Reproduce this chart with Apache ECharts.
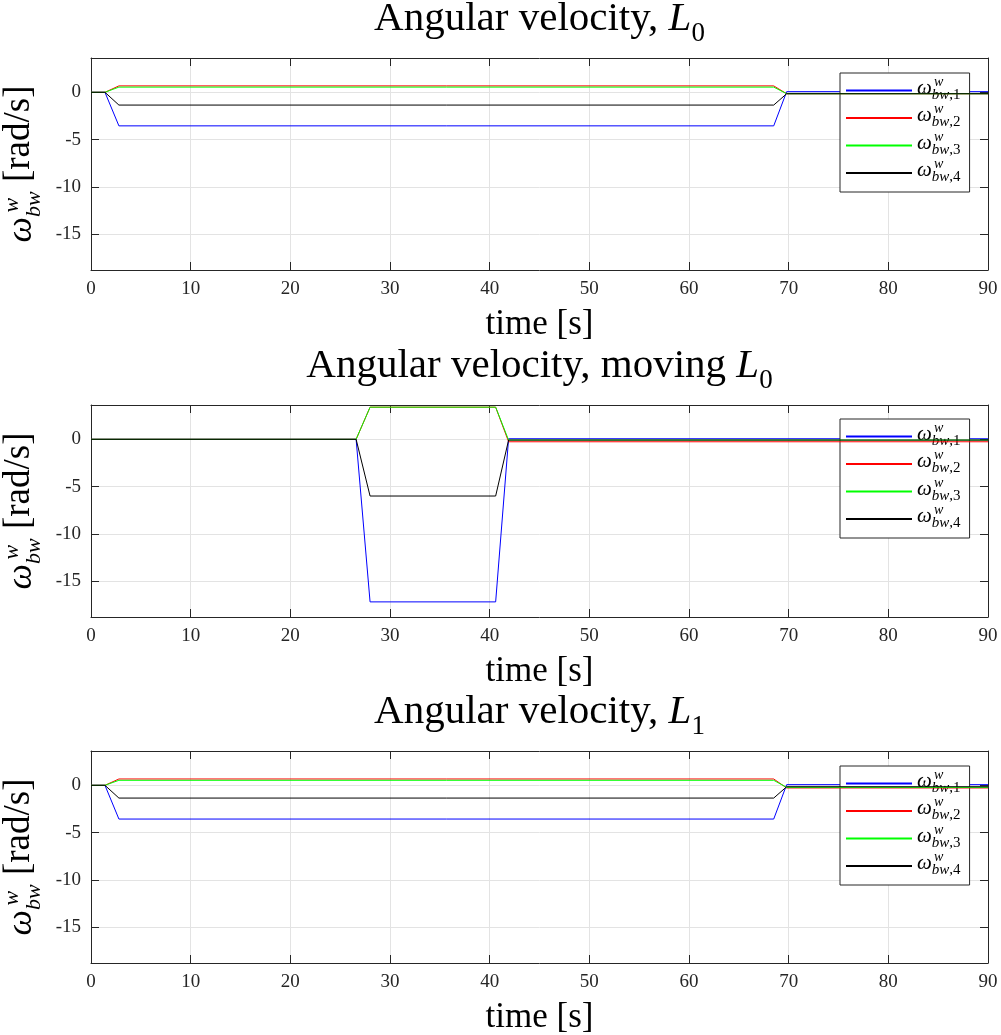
<!DOCTYPE html>
<html>
<head>
<meta charset="utf-8">
<script src="https://cdn.jsdelivr.net/npm/echarts@6/dist/echarts.min.js"></script>
<style>
html,body{margin:0;padding:0;background:#fff;}
#chart{width:1001px;height:1035px;}
</style>
</head>
<body>
<div id="chart"></div>
<script>
// ---------- data ----------
const TITLES = ['Angular velocity, ', 'Angular velocity, moving ', 'Angular velocity, '];
const TITLE_SUBS = ['0', '0', '1'];
const SERIES_KEYS = ['1', '2', '3', '4'];
const X_TICKS = [0, 10, 20, 30, 40, 50, 60, 70, 80, 90];
const Y_TICKS = [-15, -10, -5, 0];

// Panel 1: L0
const TIME_L0 = [0, 1.4, 2.8, 68.5, 69.8, 90];
const L0_W1 = [0, 0, -3.55, -3.55, 0.07, 0.07];
const L0_W2 = [0, 0, 0.68, 0.68, -0.15, -0.15];
const L0_W3 = [0, 0, 0.55, 0.55, -0.15, -0.15];
const L0_W4 = [0, 0, -1.35, -1.35, -0.15, -0.15];

// Panel 2: moving L0
const TIME_ML0 = [0, 26.6, 28.0, 40.6, 41.9, 90];
const ML0_W1 = [0, 0, -17.2, -17.2, 0.06, 0.06];
const ML0_W2 = [0, 0, 3.4, 3.4, -0.26, -0.26];
const ML0_W3 = [0, 0, 3.4, 3.4, -0.08, -0.08];
const ML0_W4 = [0, 0, -6.0, -6.0, -0.08, -0.08];

// Panel 3: L1
const TIME_L1 = [0, 1.4, 2.8, 68.5, 69.8, 90];
const L1_W1 = [0, 0, -3.57, -3.57, 0.07, 0.07];
const L1_W2 = [0, 0, 0.67, 0.67, -0.28, -0.28];
const L1_W3 = [0, 0, 0.53, 0.53, -0.22, -0.22];
const L1_W4 = [0, 0, -1.35, -1.35, -0.15, -0.15];

const PANELS = [
  { time: TIME_L0, values: [L0_W1, L0_W2, L0_W3, L0_W4] },
  { time: TIME_ML0, values: [ML0_W1, ML0_W2, ML0_W3, ML0_W4] },
  { time: TIME_L1, values: [L1_W1, L1_W2, L1_W3, L1_W4] }
];

// ---------- styling ----------
const COLORS = ['#0000ff', '#ff0000', '#00ff00', '#000000'];
const SERIF = '"Liberation Serif", "DejaVu Serif", serif';
const AXIS_COLOR = '#262626';
const GRID_TOPS = [58, 405, 751];
const GRID_H = 212;
const GRID_LEFT = 91, GRID_W = 897;
const LEGEND_TOPS = [73, 419, 766];
const Y_MIN = -18.8, Y_MAX = 3.63;

const seriesName = k => 'ω_bw,' + k;

const option = {
  animation: false,
  backgroundColor: '#ffffff',
  title: [], grid: [], xAxis: [], yAxis: [], legend: [], series: []
};

const ylabelRich = {
  g:   { width: 30, fontFamily: SERIF, fontSize: 10, lineHeight: 1, align: 'left' },
  sup: { fontFamily: SERIF, fontStyle: 'italic', fontSize: 22, lineHeight: 1, align: 'left', color: '#000' },
  om:  { fontFamily: SERIF, fontStyle: 'italic', fontSize: 36, lineHeight: 32, padding: [0, 0, 5, 0], verticalAlign: 'bottom', align: 'left', color: '#000' },
  sb:  { fontFamily: SERIF, fontStyle: 'italic', fontSize: 22, lineHeight: 22, verticalAlign: 'bottom', align: 'left', color: '#000' },
  u:   { fontFamily: SERIF, fontSize: 37, lineHeight: 32, padding: [0, 0, 7, 0], verticalAlign: 'bottom', align: 'left', color: '#000' }
};

const legendRich = {
  g:   { width: 17, fontSize: 8, lineHeight: 7, align: 'left' },
  sup: { fontFamily: SERIF, fontStyle: 'italic', fontSize: 14, lineHeight: 7, align: 'left', color: '#000' },
  om:  { fontFamily: SERIF, fontStyle: 'italic', fontSize: 21, lineHeight: 17, padding: [0, 0, 4, 0], verticalAlign: 'bottom', align: 'left', color: '#000' },
  sb:  { fontFamily: SERIF, fontStyle: 'italic', fontSize: 15, lineHeight: 14, verticalAlign: 'bottom', align: 'left', color: '#000' },
  sn:  { fontFamily: SERIF, fontSize: 15, lineHeight: 14, verticalAlign: 'bottom', align: 'left', color: '#000' }
};

PANELS.forEach((p, i) => {
  const top = GRID_TOPS[i];
  option.title.push({
    text: '{n|' + TITLES[i] + '}{it|L}{sub|' + TITLE_SUBS[i] + '}',
    left: GRID_LEFT + GRID_W / 2,
    textAlign: 'center',
    top: top - 51,
    padding: 0,
    textStyle: {
      fontWeight: 'normal',
      rich: {
        n:   { fontFamily: SERIF, fontWeight: 'normal', fontSize: 41, lineHeight: 40, padding: [0, 0, 7, 0], verticalAlign: 'bottom', color: '#000' },
        it:  { fontFamily: SERIF, fontWeight: 'normal', fontStyle: 'italic', fontSize: 41, lineHeight: 40, padding: [0, 0, 7, 0], verticalAlign: 'bottom', color: '#000' },
        sub: { fontFamily: SERIF, fontWeight: 'normal', fontSize: 27, lineHeight: 25, verticalAlign: 'bottom', color: '#000' }
      }
    }
  });
  option.grid.push({ left: GRID_LEFT, top: top, width: GRID_W, height: GRID_H,
                     containLabel: false, outerBoundsMode: 'none' });

  // bottom x axis
  option.xAxis.push({
    gridIndex: i, type: 'value', position: 'bottom', min: 0, max: 90, interval: 10,
    axisLine: { show: true, onZero: false, lineStyle: { color: AXIS_COLOR, width: 1 } },
    axisTick: { show: true, inside: true, length: 8, lineStyle: { color: AXIS_COLOR } },
    axisLabel: { show: true, margin: 10, fontFamily: SERIF, fontSize: 19, color: AXIS_COLOR,
                 customValues: X_TICKS },
    splitLine: { show: true, lineStyle: { color: '#e3e3e3', width: 1 } },
    name: 'time [s]', nameLocation: 'middle', nameGap: 37,
    nameTextStyle: { fontFamily: SERIF, fontSize: 35, color: '#000' }
  });
  // top x axis (box)
  option.xAxis.push({
    gridIndex: i, type: 'value', position: 'top', min: 0, max: 90, interval: 10,
    axisLine: { show: true, onZero: false, lineStyle: { color: AXIS_COLOR, width: 1 } },
    axisTick: { show: true, inside: true, length: 8, lineStyle: { color: AXIS_COLOR } },
    axisLabel: { show: false }, splitLine: { show: false }
  });
  // left y axis
  option.yAxis.push({
    gridIndex: i, type: 'value', position: 'left', min: Y_MIN, max: Y_MAX, splitNumber: 5,
    axisLine: { show: true, onZero: false, lineStyle: { color: AXIS_COLOR, width: 1 } },
    axisTick: { show: true, inside: true, length: 8, customValues: Y_TICKS, lineStyle: { color: AXIS_COLOR } },
    axisLabel: { show: true, margin: 10, fontFamily: SERIF, fontSize: 19, color: AXIS_COLOR,
                 customValues: Y_TICKS },
    splitLine: { show: true, lineStyle: { color: '#e3e3e3', width: 1 } },
    name: '{g| }{sup|w}\n{om|ω}{sb|bw}{u| [rad/s]}',
    nameLocation: 'middle', nameRotate: 90, nameGap: 34,
    nameTextStyle: { rich: ylabelRich }
  });
  // right y axis (box)
  option.yAxis.push({
    gridIndex: i, type: 'value', position: 'right', min: Y_MIN, max: Y_MAX, splitNumber: 5,
    axisLine: { show: true, onZero: false, lineStyle: { color: AXIS_COLOR, width: 1 } },
    axisTick: { show: true, inside: true, length: 8, customValues: Y_TICKS, lineStyle: { color: AXIS_COLOR } },
    axisLabel: { show: false }, splitLine: { show: false }
  });

  option.legend.push({
    orient: 'vertical', left: 840, top: LEGEND_TOPS[i],
    data: SERIES_KEYS.map(seriesName),
    icon: 'rect',
    itemWidth: 66, itemHeight: 2, itemGap: 0,
    padding: [2, 9, 7, 6],
    backgroundColor: '#ffffff', borderColor: AXIS_COLOR, borderWidth: 1, borderRadius: 0,
    formatter: name => {
      const k = name.split(',')[1];
      return '{g| }{sup|w}\n{om|ω}{sb|bw}{sn|,' + k + '}';
    },
    textStyle: { rich: legendRich }
  });

  p.values.forEach((vals, s) => {
    option.series.push({
      name: seriesName(SERIES_KEYS[s]),
      type: 'line',
      xAxisIndex: i * 2, yAxisIndex: i * 2,
      data: p.time.map((t, j) => [t, vals[j]]),
      symbol: 'none', showSymbol: false,
      lineStyle: { color: COLORS[s], width: 1 },
      itemStyle: { color: COLORS[s] },
      z: 3 + s
    });
  });
});

const chart = echarts.init(document.getElementById('chart'), null, { renderer: 'canvas' });
chart.setOption(option);
</script>
</body>
</html>
